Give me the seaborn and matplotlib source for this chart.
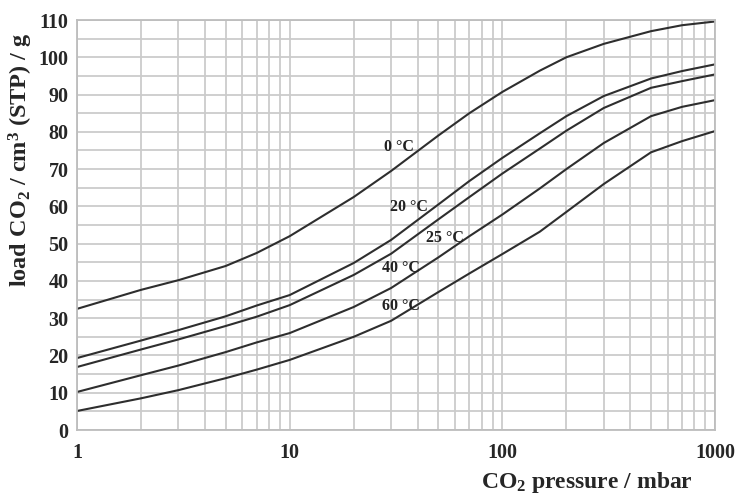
import numpy as np
import pandas as pd
import matplotlib
matplotlib.use("Agg")
import matplotlib.pyplot as plt
import seaborn as sns
from matplotlib.ticker import FixedLocator, NullFormatter

# ---- data ----
pressure = [1, 2, 3, 5, 7, 10, 20, 30, 50, 70, 100, 150, 200, 300, 500, 700, 1000]
load_0C  = [32.5, 37.6, 40.2, 44.0, 47.5, 52.0, 62.5, 69.5, 79.0, 85.0, 90.7, 96.4, 100.0, 103.6, 107.0, 108.6, 109.6]
load_20C = [19.3, 24.0, 26.8, 30.5, 33.4, 36.2, 44.8, 51.0, 60.5, 66.8, 73.0, 79.6, 84.2, 89.6, 94.3, 96.3, 98.1]
load_25C = [16.9, 21.6, 24.3, 27.9, 30.4, 33.5, 41.6, 47.3, 56.5, 62.5, 68.8, 75.5, 80.3, 86.4, 91.8, 93.6, 95.4]
load_40C = [10.2, 14.7, 17.3, 20.9, 23.5, 26.0, 33.0, 38.1, 46.3, 52.0, 57.8, 64.8, 70.0, 77.0, 84.2, 86.7, 88.5]
load_60C = [5.1, 8.5, 10.7, 13.9, 16.2, 18.8, 25.0, 29.3, 37.0, 42.0, 47.2, 53.2, 58.5, 66.0, 74.5, 77.5, 80.2]
temps = ["0 °C", "20 °C", "25 °C", "40 °C", "60 °C"]
series = [load_0C, load_20C, load_25C, load_40C, load_60C]
label_x = [32.5, 36.2, 54.0, 33.2, 33.2]
label_y = [75.9, 59.8, 51.5, 43.5, 33.3]
x_ticks = [1, 10, 100, 1000]
x_ticklabels = ["1", "10", "100", "1000"]
y_ticks = list(range(0, 111, 10))

df = pd.concat([pd.DataFrame({"p": pressure, "load": s, "T": t}) for s, t in zip(series, temps)],
               ignore_index=True)

sns.set_style("white")
plt.rcParams["font.family"] = ["Liberation Serif", "DejaVu Serif"]
plt.rcParams["font.weight"] = "bold"
plt.rcParams["mathtext.fontset"] = "custom"
plt.rcParams["mathtext.rm"] = "Liberation Serif:bold"
plt.rcParams["mathtext.it"] = "Liberation Serif:bold"
plt.rcParams["mathtext.bf"] = "Liberation Serif:bold"

fig = plt.figure(figsize=(7.42, 4.99), dpi=100)
ax = fig.add_axes([77/742, 69/499, 638/742, 410/499])

line_color = "#2e2e2e"
sns.lineplot(data=df, x="p", y="load", hue="T", palette={t: line_color for t in temps},
             legend=False, ax=ax, linewidth=1.5, estimator=None, sort=True)

ax.set_xscale("log")
ax.set_xlim(1, 1000)
ax.set_ylim(0, 110)

minor = [m * 10**d for d in range(0, 3) for m in range(2, 10)]
ax.set_xticks(x_ticks, labels=x_ticklabels)
ax.xaxis.set_minor_locator(FixedLocator(minor))
ax.xaxis.set_minor_formatter(NullFormatter())
ax.set_yticks(y_ticks, labels=[str(v) for v in y_ticks])
ax.yaxis.set_minor_locator(FixedLocator(list(range(5, 110, 10))))

grid_color = "#cbcbcb"
ax.grid(True, which="both", axis="both", color=grid_color, linewidth=1.3)
ax.set_axisbelow(True)
for s in ax.spines.values():
    s.set_color("#bdbdbd")
    s.set_linewidth(1.3)

ax.tick_params(axis="both", which="both", length=0)
ax.tick_params(axis="x", pad=9, labelsize=14.5)
ax.tick_params(axis="y", pad=6, labelsize=14.5)
for lab in ax.get_xticklabels() + ax.get_yticklabels():
    lab.set_fontweight("bold")

for t, lx, ly in zip(temps, label_x, label_y):
    ax.text(lx, ly, t, ha="center", va="center", fontsize=11.5, fontweight="bold", color="#222222")

ax.set_xlabel(r"CO$_2$ pressure / mbar", fontsize=17, fontweight="bold")
ax.set_ylabel(r"load CO$_2$ / cm$^3$ (STP) / g", fontsize=17.5, fontweight="bold")
ax.xaxis.set_label_coords(0.799, -0.097)
ax.yaxis.set_label_coords(-0.066, 0.66)

fig.savefig("out.png", dpi=100)
